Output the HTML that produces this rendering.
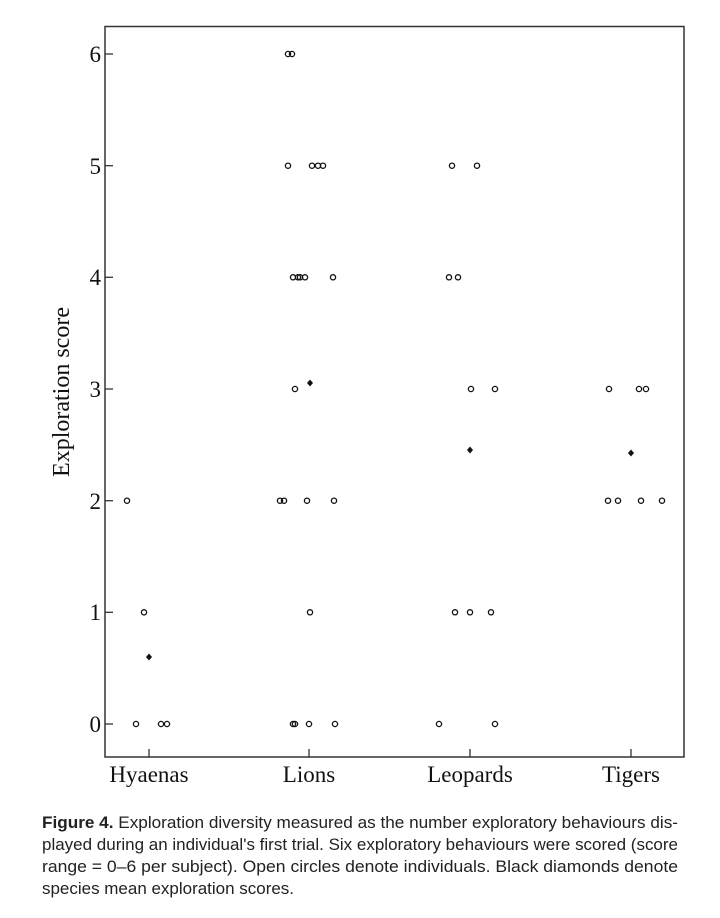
<!DOCTYPE html>
<html><head><meta charset="utf-8"><style>body{margin:0;background:#fff}</style></head><body>
<svg width="720" height="913" viewBox="0 0 720 913" xmlns="http://www.w3.org/2000/svg">
<rect x="105" y="26.5" width="579" height="730.5" fill="none" stroke="#333" stroke-width="1.5"/>
<g stroke="#333" stroke-width="1.3">
<line x1="105" y1="54" x2="113" y2="54"/><line x1="105" y1="165.7" x2="113" y2="165.7"/><line x1="105" y1="277.3" x2="113" y2="277.3"/><line x1="105" y1="389" x2="113" y2="389"/><line x1="105" y1="500.7" x2="113" y2="500.7"/><line x1="105" y1="612.3" x2="113" y2="612.3"/><line x1="105" y1="724" x2="113" y2="724"/>
<line x1="149" y1="749" x2="149" y2="757"/><line x1="309" y1="749" x2="309" y2="757"/><line x1="470" y1="749" x2="470" y2="757"/><line x1="631" y1="749" x2="631" y2="757"/>
</g>
<g font-family="Liberation Serif, serif" font-size="23" fill="#111" text-anchor="end">
<text x="101" y="62">6</text><text x="101" y="174">5</text><text x="101" y="285">4</text><text x="101" y="397">3</text><text x="101" y="509">2</text><text x="101" y="620">1</text><text x="101" y="732">0</text>
</g>
<g font-family="Liberation Serif, serif" font-size="23" fill="#111" text-anchor="middle">
<text x="149" y="782">Hyaenas</text><text x="309" y="782">Lions</text><text x="470" y="782">Leopards</text><text x="631" y="782">Tigers</text>
<text transform="translate(69,392) rotate(-90)" font-size="24">Exploration score</text>
</g>
<g fill="none" stroke="#111" stroke-width="1.3">
<circle cx="127" cy="500.7" r="2.6"/><circle cx="144" cy="612.3" r="2.6"/><circle cx="136" cy="724" r="2.6"/><circle cx="161" cy="724" r="2.6"/><circle cx="167" cy="724" r="2.6"/>
<circle cx="288" cy="54" r="2.6"/><circle cx="292" cy="54" r="2.6"/>
<circle cx="288" cy="165.7" r="2.6"/><circle cx="312" cy="165.7" r="2.6"/><circle cx="318" cy="165.7" r="2.6"/><circle cx="323" cy="165.7" r="2.6"/>
<circle cx="293" cy="277.3" r="2.6"/><circle cx="298" cy="277.3" r="2.6"/><circle cx="300" cy="277.3" r="2.6"/><circle cx="305" cy="277.3" r="2.6"/><circle cx="333" cy="277.3" r="2.6"/>
<circle cx="295" cy="389" r="2.6"/>
<circle cx="280" cy="500.7" r="2.6"/><circle cx="284" cy="500.7" r="2.6"/><circle cx="307" cy="500.7" r="2.6"/><circle cx="334" cy="500.7" r="2.6"/>
<circle cx="310" cy="612.3" r="2.6"/>
<circle cx="293" cy="724" r="2.6"/><circle cx="295" cy="724" r="2.6"/><circle cx="309" cy="724" r="2.6"/><circle cx="335" cy="724" r="2.6"/>
<circle cx="452" cy="165.7" r="2.6"/><circle cx="477" cy="165.7" r="2.6"/>
<circle cx="449" cy="277.3" r="2.6"/><circle cx="458" cy="277.3" r="2.6"/>
<circle cx="471" cy="389" r="2.6"/><circle cx="495" cy="389" r="2.6"/>
<circle cx="455" cy="612.3" r="2.6"/><circle cx="470" cy="612.3" r="2.6"/><circle cx="491" cy="612.3" r="2.6"/>
<circle cx="439" cy="724" r="2.6"/><circle cx="495" cy="724" r="2.6"/>
<circle cx="609" cy="389" r="2.6"/><circle cx="639" cy="389" r="2.6"/><circle cx="646" cy="389" r="2.6"/>
<circle cx="608" cy="500.7" r="2.6"/><circle cx="618" cy="500.7" r="2.6"/><circle cx="641" cy="500.7" r="2.6"/><circle cx="662" cy="500.7" r="2.6"/>
</g>
<g fill="#111">
<polygon points="149,653.5 152,657 149,660.5 146,657"/>
<polygon points="310,379.5 313,383 310,386.5 307,383"/>
<polygon points="470,446.5 473,450 470,453.5 467,450"/>
<polygon points="631,449.5 634,453 631,456.5 628,453"/>
</g>
<g font-family="Liberation Sans, sans-serif" font-size="17" fill="#222">
<text x="42" y="828" textLength="636" lengthAdjust="spacingAndGlyphs"><tspan font-weight="bold">Figure 4.</tspan> Exploration diversity measured as the number exploratory behaviours dis-</text>
<text x="42" y="850" textLength="636" lengthAdjust="spacingAndGlyphs">played during an individual's first trial. Six exploratory behaviours were scored (score</text>
<text x="42" y="872" textLength="636" lengthAdjust="spacingAndGlyphs">range = 0–6 per subject). Open circles denote individuals. Black diamonds denote</text>
<text x="42" y="894" textLength="252" lengthAdjust="spacingAndGlyphs">species mean exploration scores.</text>
</g>
</svg>
</body></html>
